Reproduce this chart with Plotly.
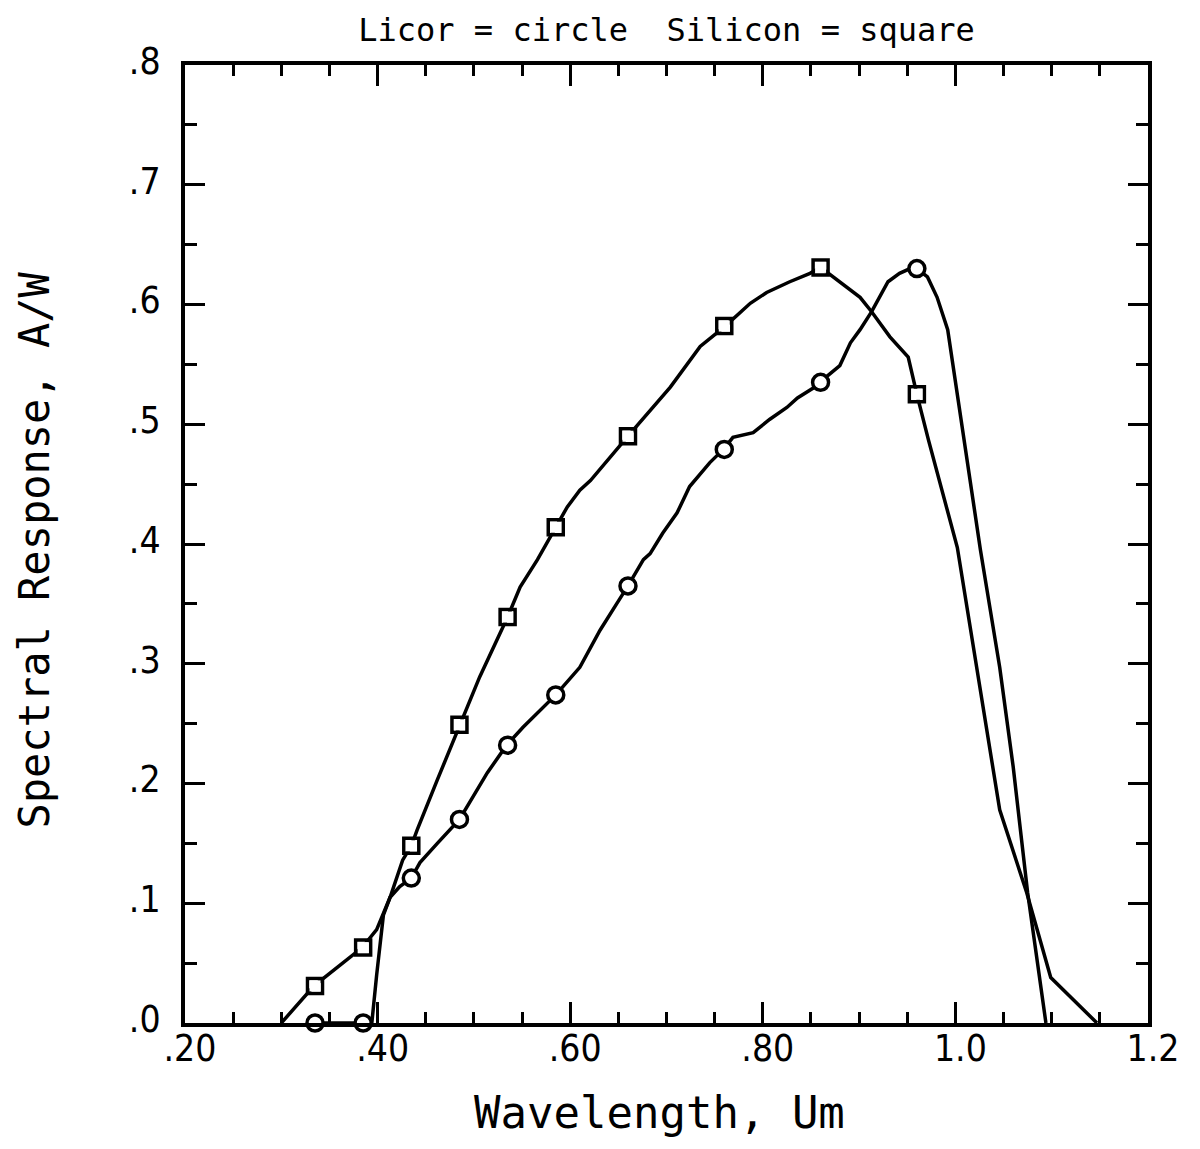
import plotly.graph_objects as go

# Silicon (square) curve trace and markers
silicon_curve_x = [0.300, 0.334, 0.384, 0.399, 0.413, 0.426, 0.435, 0.441, 0.462, 0.486, 0.506,
                   0.535, 0.548, 0.566, 0.585, 0.597, 0.610, 0.621, 0.660, 0.704, 0.735, 0.761,
                   0.787, 0.804, 0.828, 0.849, 0.860, 0.901, 0.913, 0.932, 0.951, 0.958, 0.960,
                   0.972, 1.002, 1.046, 1.074, 1.099, 1.147]
silicon_curve_y = [0.000, 0.031, 0.063, 0.078, 0.105, 0.136, 0.148, 0.161, 0.203, 0.249, 0.289,
                   0.339, 0.364, 0.387, 0.414, 0.431, 0.445, 0.453, 0.490, 0.531, 0.565, 0.582,
                   0.601, 0.610, 0.619, 0.626, 0.631, 0.606, 0.594, 0.573, 0.556, 0.534, 0.525,
                   0.487, 0.397, 0.178, 0.109, 0.038, 0.000]
silicon_marker_x = [0.335, 0.385, 0.435, 0.485, 0.535, 0.585, 0.660, 0.760, 0.860, 0.960]
silicon_marker_y = [0.031, 0.063, 0.148, 0.249, 0.339, 0.414, 0.490, 0.582, 0.631, 0.525]

# Licor (circle) curve trace and markers
licor_curve_x = [0.335, 0.385, 0.394, 0.399, 0.406, 0.413, 0.423, 0.435, 0.444, 0.462, 0.475,
                 0.485, 0.514, 0.534, 0.551, 0.572, 0.585, 0.610, 0.631, 0.649, 0.660, 0.676,
                 0.683, 0.696, 0.711, 0.724, 0.745, 0.759, 0.769, 0.790, 0.807, 0.825, 0.836,
                 0.852, 0.859, 0.880, 0.891, 0.901, 0.913, 0.930, 0.942, 0.953, 0.960, 0.971,
                 0.981, 0.992, 1.003, 1.008, 1.026, 1.046, 1.060, 1.075, 1.094]
licor_curve_y = [0.000, 0.000, 0.000, 0.040, 0.090, 0.105, 0.114, 0.121, 0.134, 0.150, 0.161,
                 0.170, 0.209, 0.232, 0.247, 0.264, 0.274, 0.297, 0.328, 0.351, 0.365, 0.387,
                 0.392, 0.409, 0.426, 0.448, 0.468, 0.479, 0.489, 0.493, 0.504, 0.514, 0.522,
                 0.530, 0.535, 0.549, 0.568, 0.579, 0.594, 0.619, 0.626, 0.630, 0.630, 0.623,
                 0.606, 0.579, 0.520, 0.493, 0.395, 0.297, 0.214, 0.109, 0.000]
licor_marker_x = [0.335, 0.385, 0.435, 0.485, 0.535, 0.585, 0.660, 0.760, 0.860, 0.960]
licor_marker_y = [0.000, 0.000, 0.121, 0.170, 0.232, 0.274, 0.365, 0.479, 0.535, 0.630]

x_tick_vals = [0.2, 0.4, 0.6, 0.8, 1.0, 1.2]
x_tick_text = [".20", ".40", ".60", ".80", "1.0", "1.2"]
y_tick_vals = [0.0, 0.1, 0.2, 0.3, 0.4, 0.5, 0.6, 0.7, 0.8]
y_tick_text = [".0", ".1", ".2", ".3", ".4", ".5", ".6", ".7", ".8"]

TICK_FONT = "DejaVu Sans Condensed, Liberation Sans Narrow, DejaVu Sans"
TEXT_FONT = "DejaVu Sans Mono, Liberation Mono, monospace"

fig = go.Figure()
fig.add_trace(go.Scatter(x=silicon_curve_x, y=silicon_curve_y, mode="lines",
                         line=dict(color="black", width=3.5), showlegend=False, cliponaxis=False))
fig.add_trace(go.Scatter(x=licor_curve_x, y=licor_curve_y, mode="lines",
                         line=dict(color="black", width=3.5), showlegend=False, cliponaxis=False))
fig.add_trace(go.Scatter(x=silicon_marker_x, y=silicon_marker_y, mode="markers",
                         marker=dict(symbol="square-open", size=15, color="black",
                                     line=dict(width=3.5, color="black")),
                         showlegend=False, cliponaxis=False))
fig.add_trace(go.Scatter(x=silicon_marker_x, y=silicon_marker_y, mode="markers",
                         marker=dict(symbol="square", size=11, color="white"),
                         showlegend=False, cliponaxis=False))
fig.add_trace(go.Scatter(x=licor_marker_x, y=licor_marker_y, mode="markers",
                         marker=dict(symbol="circle", size=16, color="white",
                                     line=dict(width=3.5, color="black")),
                         showlegend=False, cliponaxis=False))

axis_common = dict(showgrid=False, zeroline=False, showline=True, linecolor="black",
                   linewidth=4, mirror="allticks", ticks="inside", tickcolor="black",
                   tickwidth=3, tickfont=dict(family=TICK_FONT, size=37, color="black"))

fig.update_xaxes(range=[0.2, 1.2], tickvals=x_tick_vals, ticktext=x_tick_text, ticklen=21,
                 ticklabelstandoff=-10, ticklabelshift=5,
                 minor=dict(dtick=0.05, tick0=0.2, ticks="inside", ticklen=11,
                            tickwidth=3, tickcolor="black", showgrid=False),
                 **axis_common)
fig.update_yaxes(range=[0.0, 0.8], tickvals=y_tick_vals, ticktext=y_tick_text, ticklen=20,
                 ticklabelstandoff=13, ticklabelshift=-4,
                 minor=dict(dtick=0.05, tick0=0.0, ticks="inside", ticklen=12,
                            tickwidth=3, tickcolor="black", showgrid=False),
                 **axis_common)

fig.update_layout(
    width=1200, height=1149,
    margin=dict(l=177, r=60, t=57, b=134, autoexpand=False),
    paper_bgcolor="white", plot_bgcolor="white",
    title=dict(text="Licor = circle  Silicon = square", x=0.5, xref="paper", xanchor="center",
               y=0.981, yanchor="middle",
               font=dict(family=TEXT_FONT, size=32, color="black")),
    annotations=[
        dict(text="Wavelength, Um", xref="paper", yref="paper", x=0.493, y=-0.093,
             xanchor="center", yanchor="middle", showarrow=False,
             font=dict(family=TEXT_FONT, size=44, color="black")),
        dict(text="Spectral Response, A/W", xref="paper", yref="paper", x=-0.156, y=0.494,
             xanchor="center", yanchor="middle", showarrow=False, textangle=-90,
             font=dict(family=TEXT_FONT, size=42, color="black")),
    ],
)

fig.write_html("out.html")
